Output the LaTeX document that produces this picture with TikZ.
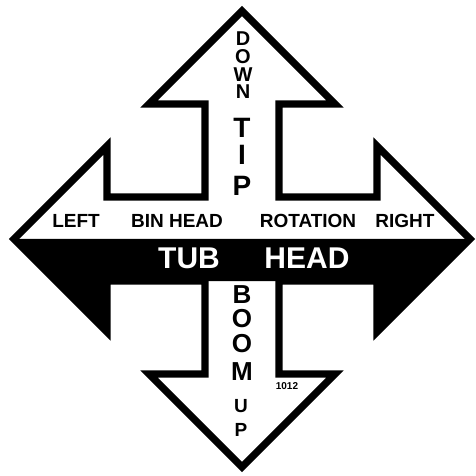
\documentclass[tikz,border=0pt]{standalone}
\usepackage{fontspec}
\setmainfont{Liberation Sans}
\usepackage{tikz}

\begin{document}
\begin{tikzpicture}[x=0.5pt,y=0.5pt,
  outline/.style={line width=3.6pt,line join=miter,miter limit=10},
  lbl/.style={inner sep=0pt,font=\bfseries\fontsize{9.5}{10}\selectfont},
  band/.style={inner sep=0pt,text=white,font=\bfseries\fontsize{15}{15}\selectfont},
  stack/.style={inner sep=0pt,font=\bfseries\fontsize{#1}{#1}\selectfont}]
  \useasboundingbox (-242,-237) rectangle (234,239);

  % four-way arrow: lower half of the cross bar is black
  \fill (-228,0) -- (-135,-93) -- (-135,-42) -- (135,-42) -- (135,-93) -- (228,0) -- cycle;
  \draw[outline] (0,228) -- (93,135) -- (37,135) -- (37,42) -- (135,42) -- (135,93)
    -- (228,0) -- (135,-93) -- (135,-42) -- (37,-42) -- (37,-135) -- (93,-135)
    -- (0,-228) -- (-93,-135) -- (-37,-135) -- (-37,-42) -- (-135,-42) -- (-135,-93)
    -- (-228,0) -- (-135,93) -- (-135,42) -- (-37,42) -- (-37,135) -- (-93,135) -- cycle;

  % words along the cross bar
  \node[lbl] (left) at (-166,18) {LEFT};
  \node[lbl] (binhead) at (-65,18) {BIN HEAD};
  \node[lbl] (rotation) at (66,18) {ROTATION};
  \node[lbl] (right) at (163,18) {RIGHT};
  \node[band] (tub) at (-53,-19) {TUB};
  \node[band] (head) at (65,-19) {HEAD};

  % upper arm
  \node[stack=10] (downD) at (1,200.5) {D};
  \node[stack=10] (downO) at (1,182.5) {O};
  \node[stack=10] (downW) at (1,164.5) {W};
  \node[stack=10] (downN) at (1,147.5) {N};
  \node[stack=14] (tipT) at (0,111.5) {T};
  \node[stack=14] (tipI) at (0,84) {I};
  \node[stack=14] (tipP) at (0,53) {P};

  % lower arm
  \node[stack=13] (boomB) at (0,-56) {B};
  \node[stack=13] (boomO) at (0,-80) {O};
  \node[stack=13] (boomOO) at (0,-105) {O};
  \node[stack=13] (boomM) at (0,-133) {M};
  \node[stack=9.5] (upU) at (-1,-167.5) {U};
  \node[stack=9.5] (upP) at (-1,-191) {P};
  \node[stack=5] (code) at (45,-147) {1012};

\end{tikzpicture}
\end{document}
